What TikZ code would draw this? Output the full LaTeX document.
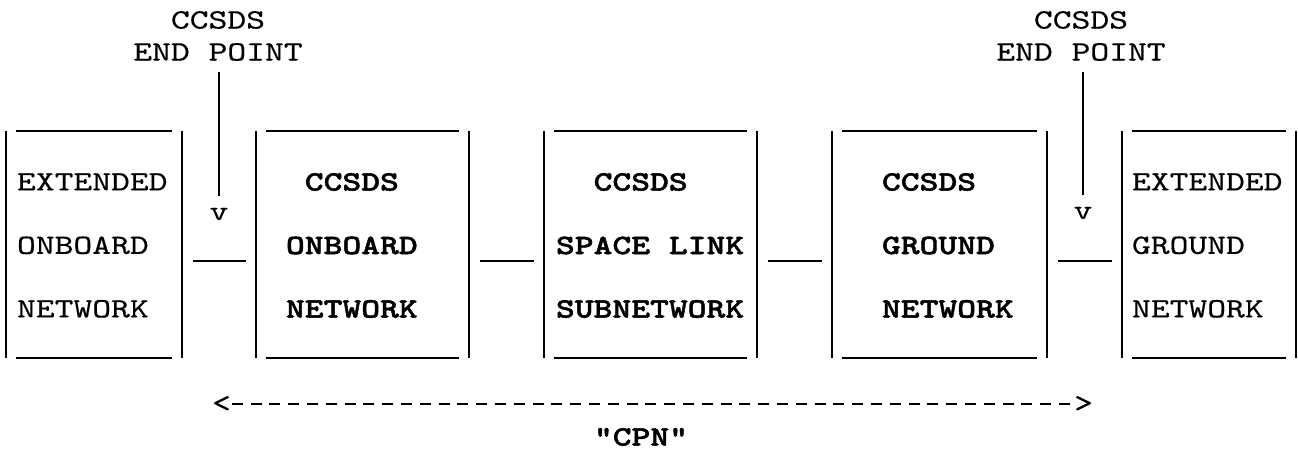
\documentclass[tikz,border=0pt]{standalone}
\usepackage{fontspec}
\newfontfamily\asciifont{lmmono10-regular}[Extension=.otf, FakeStretch=1.28, FakeBold=0.4]
\newfontfamily\asciibold{lmmonolt10-bold}[Extension=.otf, FakeStretch=1.28, FakeBold=1.6]
\usetikzlibrary{positioning,calc}

\newcommand{\marco}[1]{%
	\draw (#1.north west) -- (#1.south west);
	\draw (#1.north east) -- (#1.south east);
	\draw ([xshift=5pt]#1.north west) -- ([xshift=-5pt]#1.north east);
	\draw ([xshift=5pt]#1.south west) -- ([xshift=-5pt]#1.south east);
}

\begin{document}
\begin{tikzpicture}[x=0.5pt, y=-0.5pt, line width=1pt]

	\tikzstyle{caja}=[rectangle, inner sep=0pt, minimum height=112.5pt]
	\tikzstyle{texto}=[inner sep=0pt, anchor=west, align=left, font=\asciifont\fontsize{14pt}{31.75pt}\selectfont]
	\tikzstyle{negrita}=[texto, font=\asciibold\fontsize{14pt}{31.75pt}\selectfont]
	\tikzstyle{rotulo}=[inner sep=0pt, align=center, font=\asciifont\fontsize{14pt}{16pt}\selectfont]
	\tikzstyle{enlace}=[shorten <=5.5pt, shorten >=5pt]

	\useasboundingbox (0,0) rectangle (1298,449);

	\coordinate (ext_onb) at (94, 244.5); % EXTENDED ONBOARD
	\coordinate (ccsds_onb) at (362.5, 244.5); % CCSDS ONBOARD
	\coordinate (ccsds_sl) at (650.5, 244.5); % SPACE LINK
	\coordinate (ccsds_gnd) at (939.5, 244.5); % CCSDS GROUND
	\coordinate (ext_gnd) at (1209, 244.5); % EXTENDED GROUND

	\node[caja, minimum width=87pt] (ext_onb) at (ext_onb) {};
	\node[caja, minimum width=105.5pt] (ccsds_onb) at (ccsds_onb) {};
	\node[caja, minimum width=105.5pt] (ccsds_sl) at (ccsds_sl) {};
	\node[caja, minimum width=106.5pt] (ccsds_gnd) at (ccsds_gnd) {};
	\node[caja, minimum width=86pt] (ext_gnd) at (ext_gnd) {};

	\foreach \c in {ext_onb, ccsds_onb, ccsds_sl, ccsds_gnd, ext_gnd}
		\marco{\c};

	\node[texto] (t_ext_onb) at (16, 245.5) {EXTENDED\\ONBOARD\\NETWORK};
	\node[negrita] (t_ccsds_onb) at (285, 245.5) {\hphantom{C}CCSDS\\ONBOARD\\NETWORK};
	\node[negrita] (t_ccsds_sl) at (555, 245.5) {\hphantom{CC}CCSDS\\SPACE LINK\\SUBNETWORK};
	\node[negrita] (t_ccsds_gnd) at (881, 245.5) {CCSDS\\GROUND\\NETWORK};
	\node[texto] (t_ext_gnd) at (1131, 245.5) {EXTENDED\\GROUND\\NETWORK};

	\draw[enlace] ([yshift=-8.25pt]ext_onb.east) -- ([yshift=-8.25pt]ccsds_onb.west);
	\draw[enlace] ([yshift=-8.25pt]ccsds_onb.east) -- ([yshift=-8.25pt]ccsds_sl.west);
	\draw[enlace] ([yshift=-8.25pt]ccsds_sl.east) -- ([yshift=-8.25pt]ccsds_gnd.west);
	\draw[enlace] ([yshift=-8.25pt]ccsds_gnd.east) -- ([yshift=-8.25pt]ext_gnd.west);

	% END POINTS
	\node[rotulo] (ep_1) at (218, 36) {CCSDS\\END POINT};
	\node[rotulo] (ep_2) at (1081, 36) {CCSDS\\END POINT};
	\node[rotulo] (v_1) at (219, 214) {v};
	\node[rotulo] (v_2) at (1083, 213) {v};

	\draw[shorten <=5pt, shorten >=5.5pt] (ep_1.south -| v_1) -- (v_1.north);
	\draw[shorten <=5pt, shorten >=5.5pt] (ep_2.south -| v_2) -- (v_2.north);

	% CPN
	\node[rotulo, anchor=west] (cpn_l) at (211, 404) {<};
	\node[rotulo, anchor=east] (cpn_r) at (1094, 404) {>};
	\draw[line width=1.3pt, dash pattern=on 5.5pt off 3.9pt] (cpn_l.east) -- (cpn_r.west);
	\node[rotulo, font=\asciibold\fontsize{14pt}{16pt}\selectfont] (cpn) at (641, 437) {"CPN"};

\end{tikzpicture}
\end{document}
